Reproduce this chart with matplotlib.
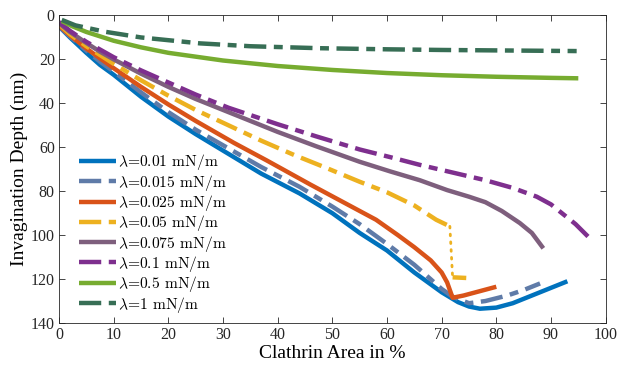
import matplotlib
matplotlib.use('Agg')
import matplotlib.pyplot as plt

# Data (Clathrin area in %, invagination depth in nm)
x_001 = [0, 2, 5, 7.5, 10, 15, 20, 25, 31, 37, 44, 50, 55, 60, 65, 70, 73, 75, 77, 80, 83, 86, 90, 93]
y_001 = [5, 10, 17, 22.5, 27, 37, 46, 54, 63, 72, 81, 90, 99, 107, 117, 126, 130.5, 132.5, 133.5, 133, 131, 128, 124, 121]

x_0015 = [0, 2, 5, 7.5, 10, 15, 20, 25, 31, 37, 44, 50, 55, 60, 65, 70, 72, 75, 78, 82, 85, 88]
y_0015 = [5, 9.5, 16, 21, 25.5, 35, 44, 52, 60.5, 69, 78, 87, 95, 104, 113.5, 124.5, 128, 131, 130, 127.5, 125, 122]

x_0025 = [0, 2, 5, 7.5, 10, 15, 20, 25, 32, 38, 46, 52, 58, 62, 65, 68, 70, 71, 72, 74, 77, 80]
y_0025 = [4.5, 9, 15, 19.5, 24, 32.5, 40.5, 48, 58, 66, 77, 85, 93, 100, 105.5, 111.5, 117, 121.5, 128.5, 127.5, 125.5, 123.5]

x_005 = [0, 2, 5, 7.5, 10, 15, 20, 25, 31, 37, 43, 49, 55, 60, 65, 69, 71.5, 72, 72, 74.5]
y_005 = [4, 8.5, 14, 18, 22, 29.5, 36.5, 43, 50, 57, 63.5, 69.5, 75.7, 80.5, 86.5, 93, 96, 119, 119.2, 119.5]

x_0075 = [0, 2, 5, 7.5, 10, 15, 20, 25, 33, 40, 47, 55, 60.6, 66, 71, 75, 78, 81, 84.3, 86.5, 88.6]
y_0075 = [3.5, 7.5, 12.5, 16.5, 20, 26.5, 32.5, 38, 46, 53, 59.5, 66.6, 71, 75, 79.5, 82.5, 85, 89, 94.5, 99, 106]

x_01 = [0, 2, 5, 7.5, 10, 15, 20, 25, 31, 40, 47, 55, 60.6, 66, 72, 78, 83, 87.4, 90, 92, 94.5, 96.8]
y_01 = [3, 7, 12, 15.5, 19, 25, 30.5, 36, 42, 49.5, 55, 61, 64.5, 68, 71.5, 75, 78.5, 82.5, 86, 90, 95, 100.7]

x_05 = [0.5, 2.5, 5, 10, 15, 20, 30, 40, 50, 60, 70, 80, 90, 95]
y_05 = [2.5, 5, 7.5, 11.5, 14.5, 17, 20.5, 23, 24.8, 26.2, 27.2, 27.9, 28.4, 28.6]

x_1 = [0.5, 3, 8.4, 15, 25.8, 35, 47.7, 60, 70, 80, 90, 94.7]
y_1 = [2, 4.5, 7.4, 10, 12.7, 14, 14.9, 15.4, 15.7, 15.9, 16.1, 16.2]

labels = [r'$\lambda$=0.01 mN/m', r'$\lambda$=0.015 mN/m', r'$\lambda$=0.025 mN/m',
          r'$\lambda$=0.05 mN/m', r'$\lambda$=0.075 mN/m', r'$\lambda$=0.1 mN/m',
          r'$\lambda$=0.5 mN/m', r'$\lambda$=1 mN/m']
colors = ['#0072BD', '#5F7BA8', '#D95319', '#EDB120', '#7E5F7D', '#7E2F8E', '#77AC30', '#376E55']

plt.rcParams['font.family'] = 'Liberation Serif'
plt.rcParams['mathtext.fontset'] = 'cm'

dd = (5, 1.7, 2.0, 1.7)  # dash-dot pattern in units of line width
lw = 3.2

fig = plt.figure(figsize=(6.18, 3.66), dpi=100)
ax = fig.add_axes([0.0955, 0.1175, 0.8845, 0.8402])

h = []
h += ax.plot(x_001, y_001, color=colors[0], lw=lw, solid_capstyle='butt', label=labels[0])
h += ax.plot(x_0015, y_0015, color=colors[1], lw=lw, dashes=dd, dash_capstyle='butt', label=labels[1])
h += ax.plot(x_0025, y_0025, color=colors[2], lw=lw, solid_capstyle='butt', label=labels[2])
h += ax.plot(x_005[:17], y_005[:17], color=colors[3], lw=lw, dashes=dd, dash_capstyle='butt', label=labels[3])
ax.plot(x_005[16:18], y_005[16:18], color=colors[3], lw=2, dashes=(0.6, 2.2), dash_capstyle='round')
ax.plot(x_005[18:], y_005[18:], color=colors[3], lw=lw, solid_capstyle='butt')
h += ax.plot(x_0075, y_0075, color=colors[4], lw=lw, solid_capstyle='butt', label=labels[4])
h += ax.plot(x_01, y_01, color=colors[5], lw=lw, dashes=dd, dash_capstyle='butt', label=labels[5])
h += ax.plot(x_05, y_05, color=colors[6], lw=lw, solid_capstyle='butt', label=labels[6])
h += ax.plot(x_1, y_1, color=colors[7], lw=lw, dashes=dd, dash_capstyle='butt', label=labels[7])

ax.set_xlim(0, 100)
ax.set_ylim(140, 0)
ax.set_xticks(range(0, 101, 10))
ax.set_yticks(range(0, 141, 20))
ax.tick_params(direction='in', length=4, width=0.6, top=True, right=True,
               labelsize=11.5, colors='#262626', pad=3)
for s in ax.spines.values():
    s.set_linewidth(0.6)
    s.set_color('#262626')

ax.set_xlabel('Clathrin Area in %', fontsize=14, labelpad=1)
ax.set_ylabel('Invagination Depth (nm)', fontsize=14, labelpad=2)

ax.legend(handles=h, loc='upper left', bbox_to_anchor=(0.036, 0.555), frameon=False,
          prop={'family': 'cmr10', 'size': 11.2}, handlelength=2.4, handletextpad=0.1,
          labelspacing=0.02, borderpad=0, borderaxespad=0)

fig.savefig('out.png', dpi=100)
